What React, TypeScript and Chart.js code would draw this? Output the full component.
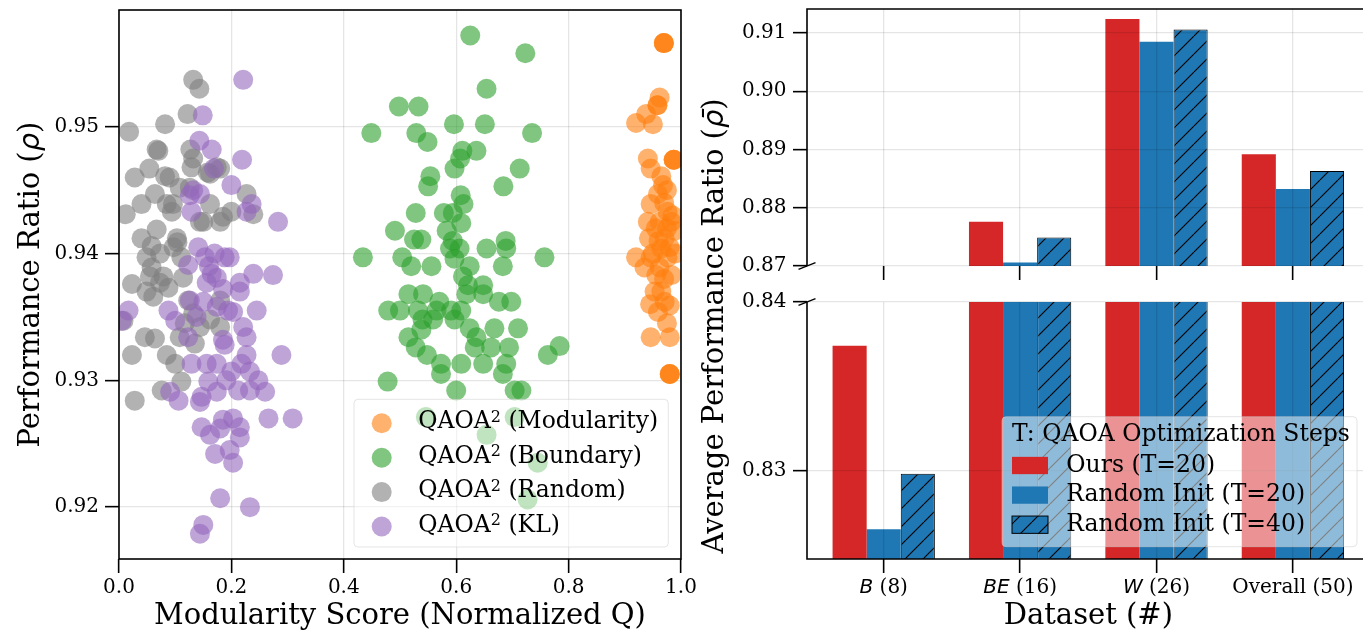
import React, { useEffect, useRef } from 'react';
import { Chart, registerables } from 'chart.js';

Chart.register(...registerables);

// ---------------- data: left scatter ----------------
const modularityPts: [number, number][] = [
  [0.9695, 0.9566], [0.9695, 0.9566], [0.9695, 0.9566],
  [0.962, 0.9523], [0.958, 0.9517], [0.958, 0.9517],
  [0.938, 0.951], [0.92, 0.9503], [0.95, 0.9502],
  [0.941, 0.9475], [0.987, 0.9474], [0.987, 0.9474], [0.987, 0.9474],
  [0.946, 0.9467], [0.965, 0.9461], [0.968, 0.9454], [0.959, 0.9447],
  [0.946, 0.9439], [0.976, 0.9433], [0.941, 0.9425], [0.962, 0.9425],
  [0.983, 0.9425], [0.989, 0.9418], [0.943, 0.9412], [0.971, 0.9412],
  [0.965, 0.9404], [0.92, 0.9397], [0.946, 0.9397], [0.976, 0.9397],
  [0.935, 0.9389], [0.962, 0.9389], [0.983, 0.9383], [0.956, 0.9383],
  [0.953, 0.937], [0.971, 0.9362], [0.959, 0.9354], [0.98, 0.9359],
  [0.946, 0.9334], [0.98, 0.9334], [0.98, 0.9305], [0.98, 0.9305], [0.98, 0.9305],
  [0.975, 0.945], [0.97, 0.944], [0.985, 0.943], [0.955, 0.942], [0.975, 0.942],
  [0.96, 0.941], [0.98, 0.9405], [0.95, 0.94], [0.97, 0.938], [0.99, 0.94],
  [0.965, 0.937], [0.945, 0.936], [0.975, 0.9345],
];

const boundaryPts: [number, number][] = [
  [0.625, 0.9572], [0.723, 0.9558], [0.654, 0.953], [0.498, 0.9516], [0.533, 0.9516],
  [0.449, 0.9495], [0.529, 0.9495], [0.549, 0.9488], [0.596, 0.9502], [0.651, 0.9502],
  [0.735, 0.9495], [0.611, 0.9481], [0.636, 0.9481], [0.607, 0.9475], [0.597, 0.9467],
  [0.713, 0.9467], [0.554, 0.9461], [0.55, 0.9453], [0.684, 0.9453], [0.608, 0.9446],
  [0.613, 0.9439], [0.528, 0.9432], [0.578, 0.9432], [0.594, 0.9432], [0.609, 0.9424],
  [0.491, 0.9418], [0.583, 0.9418], [0.525, 0.9411], [0.538, 0.9411], [0.594, 0.941],
  [0.688, 0.941], [0.434, 0.9397], [0.504, 0.9397], [0.589, 0.9404], [0.606, 0.9404],
  [0.654, 0.9404], [0.689, 0.9404], [0.757, 0.9397], [0.52, 0.939], [0.556, 0.939],
  [0.597, 0.9396], [0.683, 0.939], [0.624, 0.939], [0.612, 0.9382], [0.621, 0.9375],
  [0.648, 0.9375], [0.618, 0.9368], [0.648, 0.9368], [0.515, 0.9368], [0.541, 0.9368],
  [0.57, 0.9362], [0.676, 0.9362], [0.698, 0.9362], [0.479, 0.9355], [0.5, 0.9355],
  [0.532, 0.9355], [0.565, 0.9355], [0.591, 0.9355], [0.609, 0.9355], [0.54, 0.9348],
  [0.559, 0.9348], [0.597, 0.9348], [0.538, 0.934], [0.624, 0.9341], [0.668, 0.9341],
  [0.71, 0.9341], [0.515, 0.9334], [0.636, 0.9334], [0.528, 0.9326], [0.633, 0.9326],
  [0.662, 0.9326], [0.694, 0.9326], [0.784, 0.9327], [0.763, 0.932], [0.548, 0.932],
  [0.573, 0.9313], [0.609, 0.9313], [0.648, 0.9313], [0.689, 0.9313], [0.573, 0.9305],
  [0.683, 0.9305], [0.478, 0.9299], [0.6, 0.9292], [0.704, 0.9292], [0.716, 0.9292],
  [0.546, 0.9271], [0.704, 0.9271], [0.654, 0.9257], [0.745, 0.9235], [0.727, 0.9206],
];

const randomPts: [number, number][] = [
  [0.132, 0.9537], [0.143, 0.953], [0.122, 0.951], [0.082, 0.9502], [0.018, 0.9496],
  [0.07, 0.9481], [0.127, 0.9482], [0.054, 0.9467], [0.028, 0.946], [0.082, 0.9461],
  [0.09, 0.946], [0.132, 0.9475], [0.18, 0.9467], [0.162, 0.9463], [0.064, 0.9447],
  [0.04, 0.9439], [0.012, 0.9431], [0.085, 0.9439], [0.094, 0.9433], [0.126, 0.9452],
  [0.162, 0.9439], [0.15, 0.9425], [0.18, 0.9425], [0.2, 0.9433], [0.227, 0.9447],
  [0.239, 0.9431], [0.067, 0.9419], [0.04, 0.9412], [0.103, 0.9412], [0.097, 0.9405],
  [0.049, 0.9397], [0.073, 0.94], [0.058, 0.9389], [0.023, 0.9376], [0.049, 0.937],
  [0.061, 0.9366], [0.073, 0.9377], [0.088, 0.9373], [0.114, 0.9381], [0.008, 0.9347],
  [0.046, 0.9334], [0.064, 0.9333], [0.023, 0.932], [0.085, 0.932], [0.1, 0.9313],
  [0.108, 0.9334], [0.123, 0.9363], [0.144, 0.9342], [0.135, 0.9329], [0.076, 0.9292],
  [0.111, 0.9299], [0.028, 0.9284], [0.18, 0.9342], [0.185, 0.9429], [0.108, 0.9452],
  [0.129, 0.9468], [0.104, 0.9409], [0.058, 0.9406], [0.111, 0.9397], [0.079, 0.9382],
  [0.055, 0.9382], [0.18, 0.9363], [0.132, 0.9353], [0.162, 0.9348], [0.117, 0.9345],
  [0.158, 0.9464], [0.174, 0.9468], [0.067, 0.9482], [0.144, 0.9425], [0.096, 0.9439],
];

const klPts: [number, number][] = [
  [0.221, 0.9537], [0.149, 0.9509], [0.143, 0.9489], [0.165, 0.9482], [0.219, 0.9474],
  [0.169, 0.9467], [0.2, 0.9454], [0.132, 0.945], [0.126, 0.9446], [0.144, 0.9447],
  [0.236, 0.9439], [0.227, 0.9433], [0.129, 0.9433], [0.283, 0.9425], [0.141, 0.9405],
  [0.153, 0.9397], [0.188, 0.9397], [0.197, 0.9397], [0.123, 0.9391], [0.165, 0.9384],
  [0.174, 0.9381], [0.239, 0.9384], [0.274, 0.9383], [0.156, 0.9377], [0.215, 0.9377],
  [0.215, 0.937], [0.017, 0.9355], [0.088, 0.9355], [0.1, 0.9347], [0.126, 0.9363],
  [0.174, 0.9358], [0.194, 0.9355], [0.203, 0.9354], [0.245, 0.9355], [0.138, 0.935],
  [0.123, 0.9334], [0.221, 0.9342], [0.227, 0.9334], [0.188, 0.9328], [0.227, 0.932],
  [0.289, 0.932], [0.129, 0.9313], [0.156, 0.9313], [0.174, 0.9313], [0.2, 0.9307],
  [0.233, 0.9307], [0.248, 0.93], [0.26, 0.9291], [0.233, 0.9292], [0.212, 0.9292],
  [0.159, 0.9299], [0.174, 0.9291], [0.147, 0.9287], [0.144, 0.9283], [0.091, 0.9291],
  [0.106, 0.9284], [0.191, 0.93], [0.266, 0.927], [0.309, 0.927], [0.147, 0.9263],
  [0.162, 0.9257], [0.185, 0.9269], [0.203, 0.927], [0.215, 0.9263], [0.215, 0.9255],
  [0.171, 0.9242], [0.203, 0.9235], [0.18, 0.9207], [0.233, 0.92], [0.15, 0.9186],
  [0.144, 0.9179], [0.197, 0.9245], [0.18, 0.9262], [0.185, 0.9332], [0.218, 0.9313],
  [0.16, 0.939], [0.185, 0.9372], [0.17, 0.94], [0.15, 0.9362], [0.005, 0.9347],
];

const methodNames = ['Modularity', 'Boundary', 'Random', 'KL'];
const scatterXTicks = [0, 0.2, 0.4, 0.6, 0.8, 1.0];
const scatterYTicks = [0.92, 0.93, 0.94, 0.95];

// ---------------- data: right bars ----------------
const datasetNames = ['B', 'BE', 'W', 'Overall'];
const datasetCounts = [8, 16, 26, 50];
const datasetItalic = [true, true, true, false];
const seriesLabels = ['Ours (T=20)', 'Random Init (T=20)', 'Random Init (T=40)'];
const oursT20 = [0.8374, 0.8776, 0.9124, 0.8892];
const randomT20 = [0.8265, 0.8706, 0.9085, 0.8832];
const randomT40 = [0.8298, 0.8749, 0.9106, 0.8863];
const upperYTicks = [0.87, 0.88, 0.89, 0.9, 0.91];
const lowerYTicks = [0.83, 0.84];

// ---------------- styles ----------------
const SERIF = '"DejaVu Serif", serif';
const SANS = '"DejaVu Sans", sans-serif';
const TITLE_FONT = `29px ${SERIF}`;
const LEG_FONT = `23.5px ${SERIF}`;
const SUP_FONT = `16px ${SERIF}`;
const TICK_SIZE = 20;
const ORANGE = 'rgba(255,127,14,0.6)';
const GREEN = 'rgba(44,160,44,0.6)';
const GRAY = 'rgba(127,127,127,0.6)';
const PURPLE = 'rgba(148,103,189,0.6)';
const RED = '#d62728';
const BLUE = '#1f77b4';
const GRID = 'rgba(0,0,0,0.1)';
const SPINE_W = 1.6;

function drawRich(ctx: any, parts: any[], x: number, y: number, rot = 0, align = 'center') {
  ctx.save();
  ctx.translate(x, y);
  if (rot) ctx.rotate(rot);
  ctx.textBaseline = 'middle';
  ctx.textAlign = 'left';
  ctx.fillStyle = '#000';
  const widths = parts.map((p) => { ctx.font = p.f; return ctx.measureText(p.t).width; });
  const total = widths.reduce((a: number, b: number) => a + b, 0);
  let cx = align === 'center' ? -total / 2 : 0;
  parts.forEach((p, i) => { ctx.font = p.f; ctx.fillText(p.t, cx, p.dy || 0); cx += widths[i]; });
  ctx.restore();
}

const fixWidth = (w: number) => (s: any) => { s.width = w; s.paddingTop = 0; s.paddingBottom = 0; };
const fixHeight = (h: number) => (s: any) => { s.height = h; s.paddingLeft = 0; s.paddingRight = 0; };
const setTicks = (vals: number[]) => (s: any) => { s.ticks = vals.map((v) => ({ value: v })); };

const tickFont = { family: SERIF, size: TICK_SIZE };
const gridOpts = (z: number) => ({ color: GRID, lineWidth: 1.3, tickColor: '#000', tickWidth: SPINE_W, tickLength: 14, z, offset: false });

function makeHatch(): any {
  const P = 18;
  const c = document.createElement('canvas');
  c.width = P; c.height = P;
  const g = c.getContext('2d')!;
  g.fillStyle = BLUE;
  g.fillRect(0, 0, P, P);
  g.strokeStyle = '#000';
  g.lineWidth = 1.1;
  g.beginPath();
  for (const o of [-P, 0, P]) { g.moveTo(o, P); g.lineTo(o + P, 0); }
  g.stroke();
  return g.createPattern(c, 'repeat');
}

function makeScatter(canvas: HTMLCanvasElement) {
  const series = [
    { name: methodNames[3], pts: klPts, color: PURPLE },
    { name: methodNames[2], pts: randomPts, color: GRAY },
    { name: methodNames[1], pts: boundaryPts, color: GREEN },
    { name: methodNames[0], pts: modularityPts, color: ORANGE },
  ];
  const legendColors = [ORANGE, GREEN, GRAY, PURPLE];
  const decor = {
    id: 'scatterDecor',
    afterDraw(chart: any) {
      const { ctx, chartArea: a, scales } = chart;
      ctx.save();
      ctx.strokeStyle = '#000';
      ctx.lineWidth = SPINE_W;
      ctx.strokeRect(a.left, a.top, a.right - a.left, a.bottom - a.top);
      // legend
      ctx.beginPath();
      ctx.roundRect(354, 399.3, 314.3, 147.7, 4);
      ctx.fillStyle = 'rgba(255,255,255,0.5)';
      ctx.fill();
      ctx.strokeStyle = 'rgba(204,204,204,0.5)';
      ctx.lineWidth = 1;
      ctx.stroke();
      methodNames.forEach((name, i) => {
        const cy = 423.3 + i * 34.4;
        ctx.beginPath();
        ctx.arc(381.7, cy, 10, 0, Math.PI * 2);
        ctx.fillStyle = legendColors[i];
        ctx.fill();
        drawRich(ctx, [
          { t: 'QAOA', f: LEG_FONT },
          { t: '2', f: SUP_FONT, dy: -4.5 },
          { t: ` (${name})`, f: LEG_FONT },
        ], 418.3, cy - 1, 0, 'left');
      });
      // titles
      drawRich(ctx, [{ t: 'Modularity Score (Normalized Q)', f: TITLE_FONT }], scales.x.getPixelForValue(0.5), 616);
      drawRich(ctx, [
        { t: 'Performance Ratio (', f: TITLE_FONT },
        { t: 'ρ', f: `italic 29px ${SANS}` },
        { t: ')', f: TITLE_FONT },
      ], 31.5, (a.top + a.bottom) / 2, -Math.PI / 2);
      ctx.restore();
    },
  };
  return new Chart(canvas, {
    type: 'scatter',
    data: {
      datasets: series.map((s) => ({
        label: s.name,
        data: s.pts.map(([x, y]) => ({ x, y })),
        backgroundColor: s.color,
        pointBackgroundColor: s.color,
        pointBorderWidth: 0,
        pointRadius: 10,
        pointHoverRadius: 10,
        clip: 0,
      })),
    },
    options: {
      animation: false,
      responsive: false,
      devicePixelRatio: 1,
      events: [],
      layout: { padding: { top: 9, right: 24, left: 0, bottom: 0 } },
      plugins: { legend: { display: false }, tooltip: { enabled: false } },
      scales: {
        x: {
          type: 'linear', min: 0, max: 1,
          afterBuildTicks: setTicks(scatterXTicks),
          afterFit: fixHeight(75),
          ticks: { callback: (v: any) => Number(v).toFixed(1), font: tickFont, color: '#000', padding: 3, maxRotation: 0 },
          grid: gridOpts(-1),
          border: { display: false },
        },
        y: {
          type: 'linear', min: 0.91591, max: 0.95921,
          afterBuildTicks: setTicks(scatterYTicks),
          afterFit: fixWidth(119),
          ticks: { callback: (v: any) => Number(v).toFixed(2), font: tickFont, color: '#000', padding: 6 },
          grid: gridOpts(-1),
          border: { display: false },
        },
      },
    } as any,
    plugins: [decor],
  } as any);
}

const X_MIN = -0.5625;
const X_MAX = 3.514;

function barDatasets(hatch: any) {
  const toPts = (vals: number[]) => vals.map((y, i) => ({ x: i, y }));
  return [
    { label: seriesLabels[0], data: toPts(oursT20), backgroundColor: RED, borderWidth: 0, clip: 0 },
    { label: seriesLabels[1], data: toPts(randomT20), backgroundColor: BLUE, borderWidth: 0, clip: 0 },
    { label: seriesLabels[2], data: toPts(randomT40), backgroundColor: hatch, borderColor: '#000', borderWidth: 1, borderSkipped: false, clip: 0 },
  ];
}

function barOptions(yMin: number, yMax: number, yTicks: number[], padTop: number, xHeight: number) {
  return {
    animation: false,
    responsive: false,
    devicePixelRatio: 1,
    events: [],
    layout: { padding: { top: padTop, right: 0, left: 0, bottom: 0 } },
    plugins: { legend: { display: false }, tooltip: { enabled: false } },
    datasets: { bar: { categoryPercentage: 0.75, barPercentage: 1 } },
    scales: {
      x: {
        type: 'linear', min: X_MIN, max: X_MAX, offset: false,
        afterBuildTicks: setTicks(datasetNames.map((_, i) => i)),
        afterFit: fixHeight(xHeight),
        ticks: { display: false },
        grid: gridOpts(1),
        border: { display: false },
      },
      y: {
        type: 'linear', min: yMin, max: yMax,
        afterBuildTicks: setTicks(yTicks),
        afterFit: fixWidth(117),
        ticks: { callback: (v: any) => Number(v).toFixed(2), font: tickFont, color: '#000', padding: 6.5 },
        grid: gridOpts(1),
        border: { display: false },
      },
    },
  };
}

function breakMark(ctx: any, x: number, y: number) {
  ctx.beginPath();
  ctx.moveTo(x - 8.5, y + 3.3);
  ctx.lineTo(x + 8.5, y - 3.3);
  ctx.stroke();
}

function makeUpper(canvas: HTMLCanvasElement, hatch: any) {
  const decor = {
    id: 'upperDecor',
    afterDraw(chart: any) {
      const { ctx, chartArea: a, width } = chart;
      ctx.save();
      ctx.strokeStyle = '#000';
      ctx.lineWidth = SPINE_W;
      ctx.beginPath();
      ctx.moveTo(a.left, a.bottom);
      ctx.lineTo(a.left, a.top);
      ctx.lineTo(width, a.top);
      ctx.stroke();
      ctx.lineWidth = 1.3;
      breakMark(ctx, a.left, a.bottom);
      ctx.restore();
    },
  };
  return new Chart(canvas, {
    type: 'bar',
    data: { datasets: barDatasets(hatch) },
    options: barOptions(0.87, 0.91412, upperYTicks, 9, 24) as any,
    plugins: [decor],
  } as any);
}

function makeLower(canvas: HTMLCanvasElement, hatch: any) {
  const fills = [RED, BLUE, hatch];
  const decor = {
    id: 'lowerDecor',
    afterDraw(chart: any) {
      const { ctx, chartArea: a, width, scales } = chart;
      ctx.save();
      ctx.strokeStyle = '#000';
      ctx.lineWidth = SPINE_W;
      ctx.beginPath();
      ctx.moveTo(a.left, a.top);
      ctx.lineTo(a.left, a.bottom);
      ctx.lineTo(width, a.bottom);
      ctx.stroke();
      ctx.lineWidth = 1.3;
      breakMark(ctx, a.left, a.top);
      // x tick labels (italic dataset code + serif count)
      datasetNames.forEach((name, i) => {
        const parts = datasetItalic[i]
          ? [{ t: name, f: `italic ${TICK_SIZE}px ${SANS}` }, { t: ` (${datasetCounts[i]})`, f: `${TICK_SIZE}px ${SERIF}` }]
          : [{ t: `${name} (${datasetCounts[i]})`, f: `${TICK_SIZE}px ${SERIF}` }];
        drawRich(ctx, parts, scales.x.getPixelForValue(i), 588);
      });
      // axis titles
      drawRich(ctx, [{ t: 'Dataset (#)', f: TITLE_FONT }], scales.x.getPixelForValue((X_MIN + 3.5625) / 2), 616);
      drawRich(ctx, [
        { t: 'Average Performance Ratio (', f: TITLE_FONT },
        { t: 'ρ\u0304', f: `italic 29px ${SANS}` },
        { t: ')', f: TITLE_FONT },
      ], 25, 326, -Math.PI / 2);
      // legend
      ctx.beginPath();
      ctx.roundRect(312, 416.7, 355, 130, 4);
      ctx.fillStyle = 'rgba(255,255,255,0.5)';
      ctx.fill();
      ctx.strokeStyle = 'rgba(204,204,204,0.5)';
      ctx.lineWidth = 1;
      ctx.stroke();
      drawRich(ctx, [{ t: 'T: QAOA Optimization Steps', f: LEG_FONT }], 322, 434.5, 0, 'left');
      seriesLabels.forEach((label, i) => {
        const cy = 465.5 + i * 29.6;
        ctx.fillStyle = fills[i];
        ctx.fillRect(322, cy - 8.65, 36, 17.3);
        if (i === 2) {
          ctx.strokeStyle = '#000';
          ctx.lineWidth = 1;
          ctx.strokeRect(322, cy - 8.65, 36, 17.3);
        }
        drawRich(ctx, [{ t: label, f: LEG_FONT }], 376.3, cy, 0, 'left');
      });
      ctx.restore();
    },
  };
  return new Chart(canvas, {
    type: 'bar',
    data: { datasets: barDatasets(hatch) },
    options: barOptions(0.82473, 0.84, lowerYTicks, 302, 75) as any,
    plugins: [decor],
  } as any);
}

export default function App() {
  const leftRef = useRef<HTMLCanvasElement>(null);
  const upperRef = useRef<HTMLCanvasElement>(null);
  const lowerRef = useRef<HTMLCanvasElement>(null);

  useEffect(() => {
    document.body.style.margin = '0';
    const hatch = makeHatch();
    const charts = [
      makeScatter(leftRef.current!),
      makeLower(lowerRef.current!, hatch),
      makeUpper(upperRef.current!, hatch),
    ];
    return () => charts.forEach((c) => c.destroy());
  }, []);

  const abs = (left: number, w: number, h: number) => ({ position: 'absolute' as const, left, top: 0, width: w, height: h });

  return (
    <div style={{ position: 'fixed', left: 0, top: 0, width: 1363, height: 634, background: '#fff', overflow: 'hidden' }}>
      <canvas ref={leftRef} width={705} height={634} style={abs(0, 705, 634)} />
      <canvas ref={lowerRef} width={673} height={634} style={abs(690, 673, 634)} />
      <canvas ref={upperRef} width={673} height={290} style={abs(690, 673, 290)} />
    </div>
  );
}
